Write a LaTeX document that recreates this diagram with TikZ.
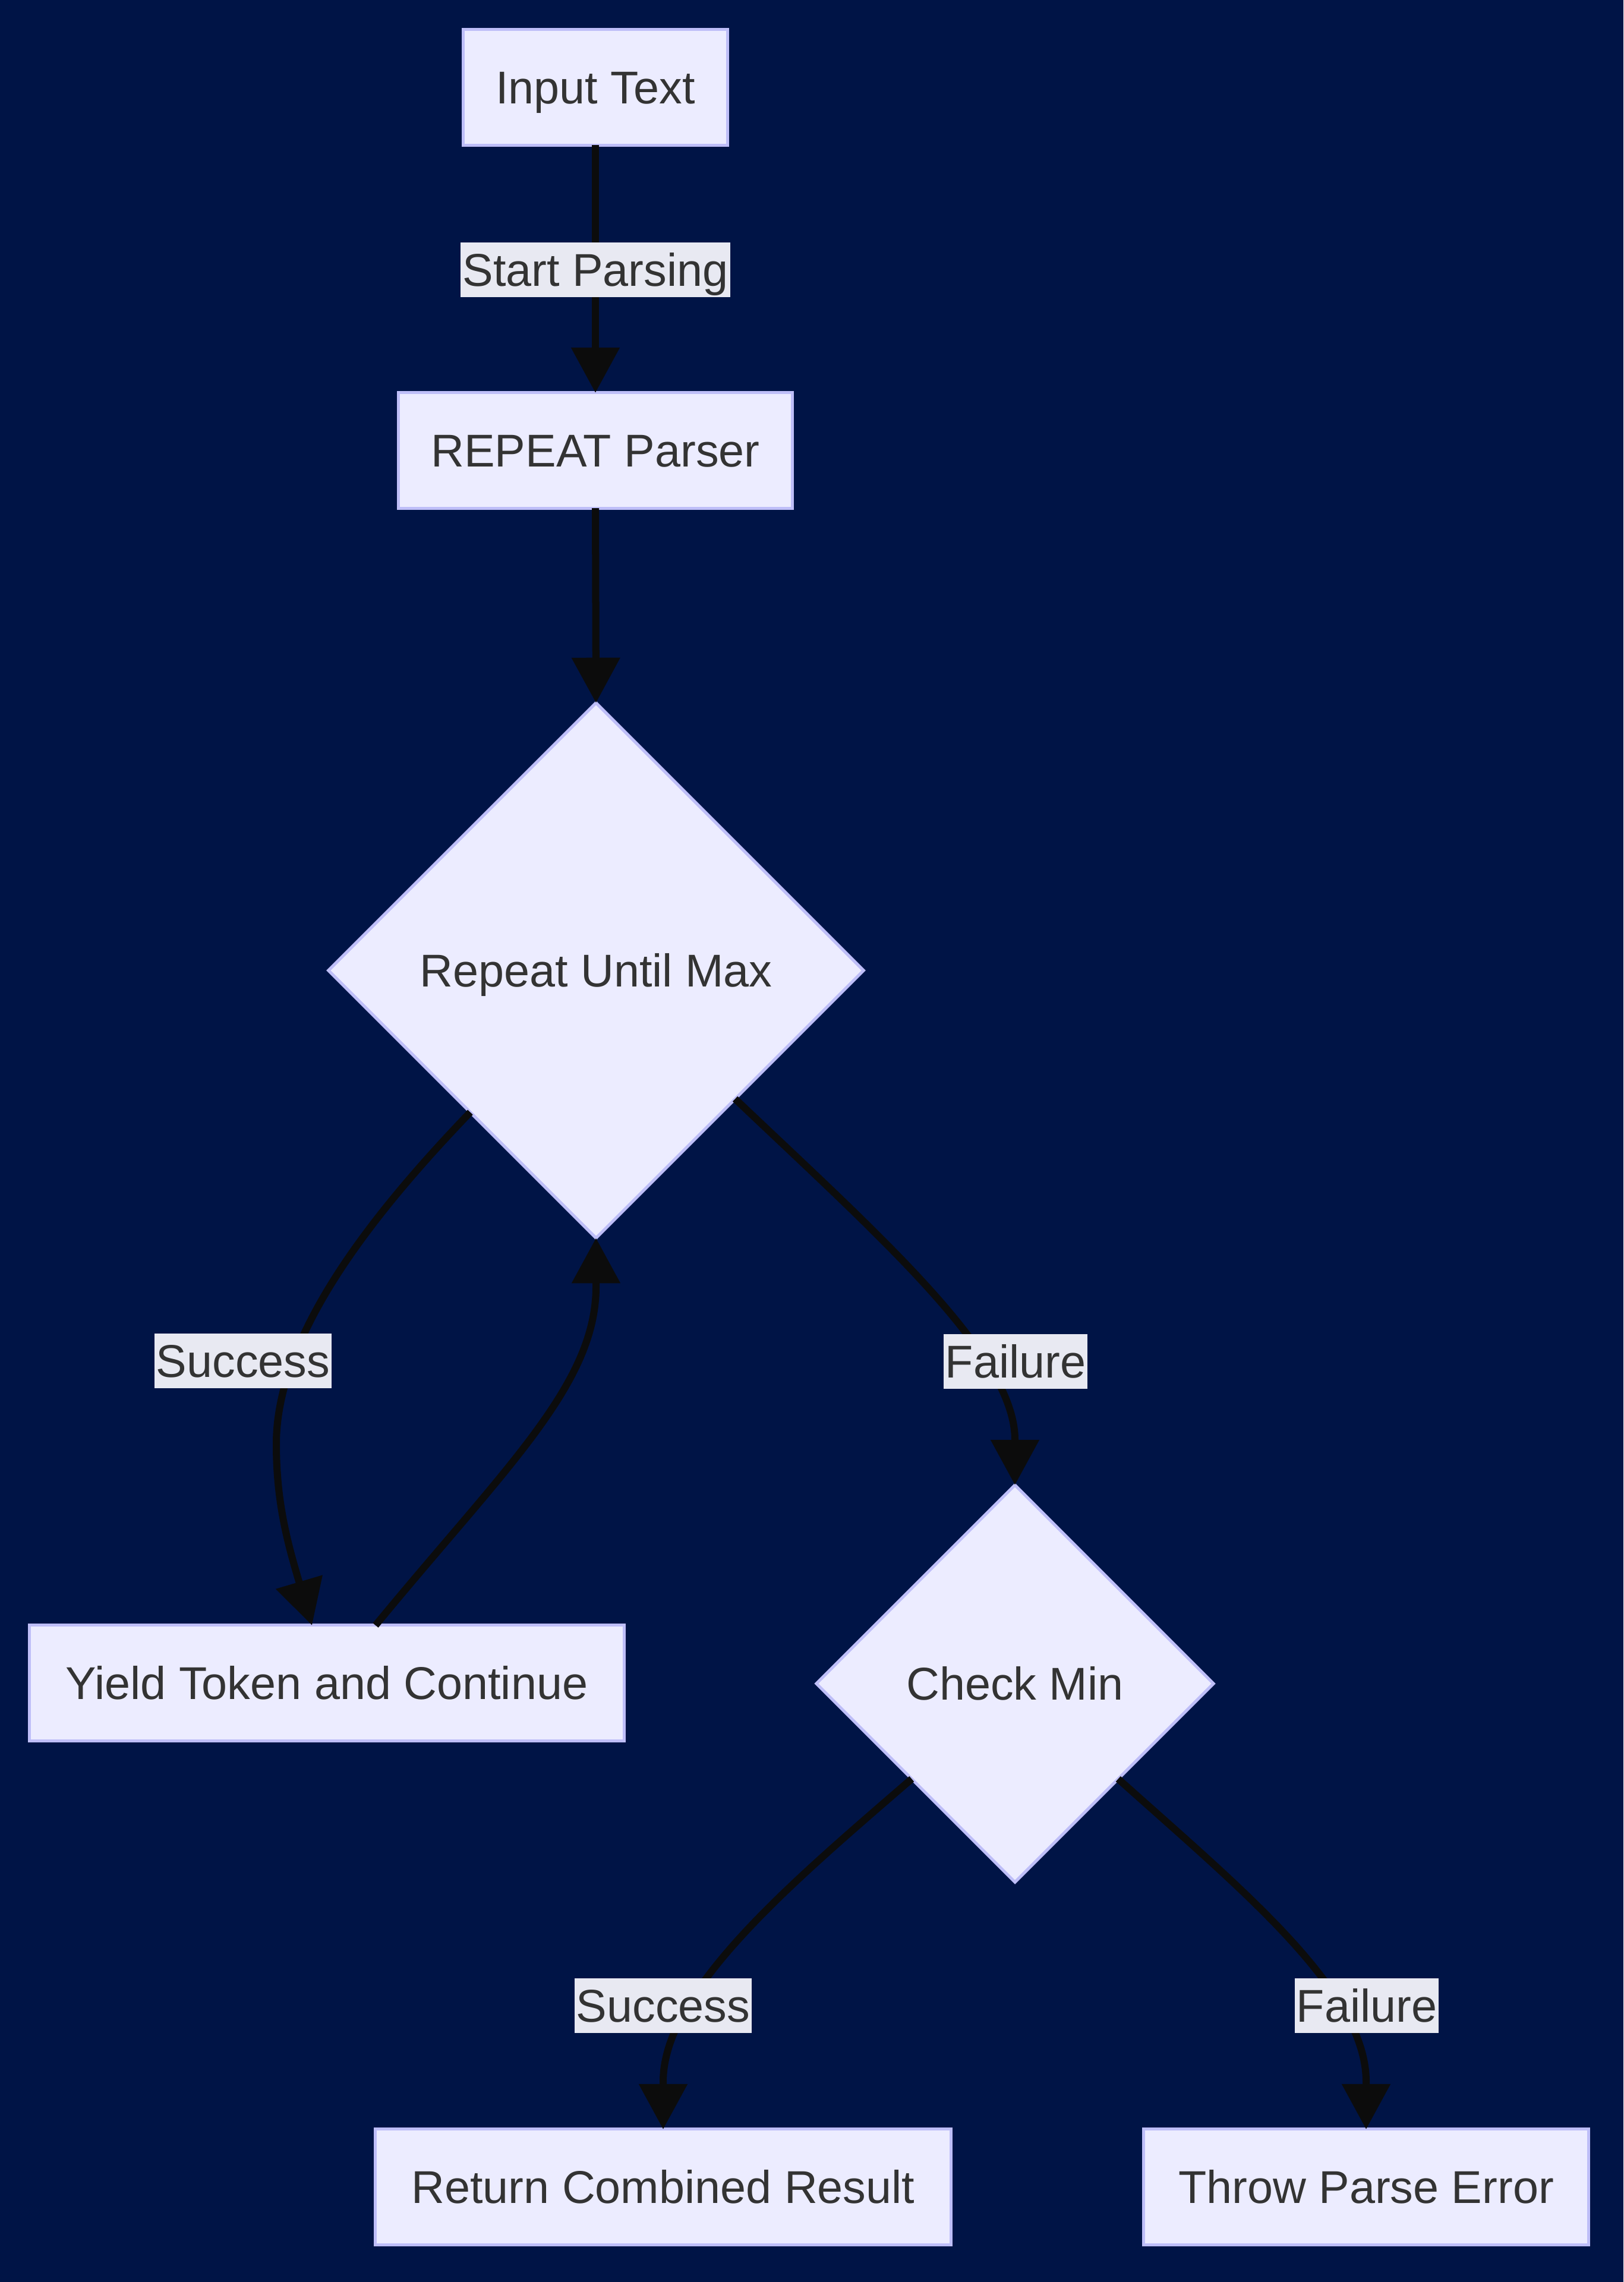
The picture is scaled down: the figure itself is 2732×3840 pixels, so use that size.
\documentclass[tikz,border=0pt]{standalone}
\usepackage{fontspec}
\setmainfont{Liberation Sans}
\usetikzlibrary{arrows.meta,shapes.geometric,calc}
\definecolor{bg}{RGB}{0,20,70}
\definecolor{nodefill}{RGB}{236,236,255}
\definecolor{nodeline}{RGB}{190,190,248}
\definecolor{edgecol}{RGB}{12,12,12}
\definecolor{lblbg}{RGB}{232,233,242}
\definecolor{txt}{RGB}{51,51,51}
\begin{document}
\begin{tikzpicture}[x=0.01cm,y=-0.01cm,
  every node/.style={font=\fontsize{22pt}{26pt}\selectfont, text=txt, text height=0.70cm, text depth=0.144cm},
  box/.style={rectangle, draw=nodeline, fill=nodefill, line width=0.05cm, minimum height=1.94cm, inner sep=0pt, outer sep=0pt},
  dec/.style={diamond, aspect=1, draw=nodeline, fill=nodefill, line width=0.05cm, inner sep=0pt, outer sep=0pt},
  lbl/.style={fill=lblbg, inner xsep=0.03cm, inner ysep=0pt, minimum height=0.92cm},
  conn/.style={draw=edgecol, line width=0.12cm, -{Triangle[length=0.76cm,width=0.79cm]}}
]
\fill[bg] (0,0) rectangle (2732,3840);
\useasboundingbox (0,0) rectangle (2732,3840);

\node[box, minimum width=4.45cm] (in) at (1002,147) {Input Text};
\node[box, minimum width=6.63cm] (rp) at (1002,758) {REPEAT Parser};
\node[dec, minimum width=9.0cm, minimum height=9.0cm] (R) at (1003,1633) {Repeat Until Max};
\node[box, minimum width=10.0cm] (Y) at (550,2832) {Yield Token and Continue};
\node[dec, minimum width=6.68cm, minimum height=6.68cm] (CM) at (1708,2833) {Check Min};
\node[box, minimum width=9.69cm] (Ret) at (1116,3680) {Return Combined Result};
\node[box, minimum width=7.48cm] (Thr) at (2299,3680) {Throw Parse Error};

\draw[conn] (in.south) -- (rp.north);
\draw[conn] (rp.south) -- (R.north);
\draw[conn] ($(R.west)!0.53!(R.south)$) .. controls (620,2050) and (465,2250) .. (465,2430) .. controls (465,2530) and (485,2600) .. ($(Y.north)+(-25,0)$);
\draw[conn] ($(Y.north)+(82,0)$) .. controls (850,2470) and (1003,2330) .. (1003,2165) -- (R.south);
\draw[conn] ($(R.east)!0.48!(R.south)$) .. controls (1480,2080) and (1708,2280) .. (1708,2423) -- (CM.north);
\draw[conn] ($(CM.west)!0.48!(CM.south)$) .. controls (1330,3170) and (1116,3350) .. (1116,3503) -- (Ret.north);
\draw[conn] ($(CM.east)!0.48!(CM.south)$) .. controls (2090,3180) and (2299,3350) .. (2299,3503) -- (Thr.north);

\node[lbl] (l1) at (1002,454) {Start Parsing};
\node[lbl] (l2) at (409,2290) {Success};
\node[lbl] (l3) at (1709,2291) {Failure};
\node[lbl] (l4) at (1116,3375) {Success};
\node[lbl] (l5) at (2300,3375) {Failure};
\end{tikzpicture}
\end{document}
